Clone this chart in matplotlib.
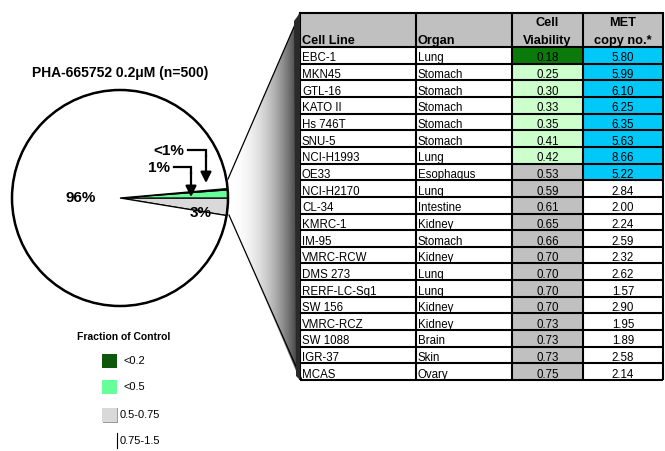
import matplotlib
matplotlib.use('Agg')
import matplotlib.pyplot as plt
from matplotlib.patches import Rectangle, Polygon, Circle
from matplotlib import font_manager
import numpy as np

# table data
cell_lines = ['EBC-1', 'MKN45', 'GTL-16', 'KATO II', 'Hs 746T', 'SNU-5', 'NCI-H1993',
              'OE33', 'NCI-H2170', 'CL-34', 'KMRC-1', 'IM-95', 'VMRC-RCW', 'DMS 273',
              'RERF-LC-Sq1', 'SW 156', 'VMRC-RCZ', 'SW 1088', 'IGR-37', 'MCAS']
organs = ['Lung', 'Stomach', 'Stomach', 'Stomach', 'Stomach', 'Stomach', 'Lung',
          'Esophagus', 'Lung', 'Intestine', 'Kidney', 'Stomach', 'Kidney', 'Lung',
          'Lung', 'Kidney', 'Kidney', 'Brain', 'Skin', 'Ovary']
viability = [0.18, 0.25, 0.30, 0.33, 0.35, 0.41, 0.42, 0.53, 0.59, 0.61, 0.65, 0.66,
             0.70, 0.70, 0.70, 0.70, 0.73, 0.73, 0.73, 0.75]
met_copy = [5.80, 5.99, 6.10, 6.25, 6.35, 5.63, 8.66, 5.22, 2.84, 2.00, 2.24, 2.59,
            2.32, 2.62, 1.57, 2.90, 1.95, 1.89, 2.58, 2.14]
n_total = 500

# pie: 0.5-0.75, <0.5, <0.2, rest
pie_labels = ['3%', '1%', '<1%', '96%']
legend_labels = ['<0.2', '<0.5', '0.5-0.75', '0.75-1.5']

DKGREEN = '#0b7a0b'
LEG_DK = '#0e580e'
PIE_DK = '#0a6e0a'
PIE_GREEN = '#66ff99'
PIE_GRAY = '#d9d9d9'
LTGREEN = '#ccffcc'
GRAY = '#c0c0c0'
BLUE = '#00c8f8'

W, H = 665, 451


def Y(y):
    """pixel row from top -> data y"""
    return H - y


names = {f.name for f in font_manager.fontManager.ttflist}
if 'Liberation Sans Narrow' in names:
    NARROW, NSIZE = 'Liberation Sans Narrow', 9.2
else:
    NARROW, NSIZE = 'Liberation Sans', 8.3
SANS = 'Liberation Sans'

fig = plt.figure(figsize=(W / 100, H / 100), dpi=100)
ax = fig.add_axes([0, 0, 1, 1])

# pie
v = np.array(viability)
counts = [int(((v >= 0.5) & (v <= 0.75)).sum()),
          int(((v >= 0.2) & (v < 0.5)).sum()),
          int((v < 0.2).sum())]
counts.append(n_total - sum(counts))
cx, cy, r = 120, 198, 108
ax.pie(counts, colors=[PIE_GRAY, PIE_GREEN, PIE_DK, 'white'],
       startangle=-360 * counts[0] / n_total, counterclock=True,
       center=(cx, Y(cy)), radius=r,
       wedgeprops=dict(edgecolor='black', linewidth=0.9))
ax.add_patch(Circle((cx, Y(cy)), r, fill=False, edgecolor='black', lw=1.8, zorder=3))

ax.text(cx, Y(73), 'PHA-665752 0.2\u03bcM (n=500)', ha='center', va='center',
        fontsize=10, fontweight='bold', family=SANS)
lab_pos = [(201, 213), (159, 168), (169, 151), (81, 198)]
for lab, (px, py) in zip(pie_labels, lab_pos):
    ax.text(px, Y(py), lab, ha='center', va='center', fontsize=11,
            fontweight='bold', family=SANS, zorder=5)

# callout arrows
for (x0, y0, x1, y2) in [(188, 150, 206, 183), (174, 167, 191, 197)]:
    ax.plot([x0, x1, x1], [Y(y0), Y(y0), Y(y0 + 6)], color='black', lw=1.6,
            solid_joinstyle='miter', zorder=5)
    ax.annotate('', xy=(x1, Y(y2)), xytext=(x1, Y(y0 + 5)),
                arrowprops=dict(arrowstyle='-|>', color='black', lw=1.6,
                                mutation_scale=16, shrinkA=0, shrinkB=0), zorder=5)

# funnel with gradient
tl, tr = 13, 380
funnel = Polygon([(228, Y(179)), (300, Y(tl)), (300, Y(tr)), (229, Y(215))],
                 closed=True, facecolor='none', edgecolor='none')
ax.add_patch(funnel)
gx = np.linspace(0, 1, 200)
grad = 1 - 0.8 * gx ** 2.2
im = ax.imshow(grad[np.newaxis, :], cmap='gray', vmin=0, vmax=1, aspect='auto',
               extent=(228, 300, Y(tr), Y(tl)), zorder=1)
im.set_clip_path(funnel)
ax.plot([228, 300], [Y(179), Y(tl)], color='black', lw=0.9, zorder=2)
ax.plot([229, 302], [Y(215), Y(tr)], color='black', lw=0.9, zorder=2)

# legend
ax.text(124, Y(337), 'Fraction of Control', ha='center', va='center',
        fontsize=7.5, fontweight='bold', family=SANS)
leg_colors = [LEG_DK, PIE_GREEN, PIE_GRAY, 'white']
leg_y = [354, 380, 408, 433]
for lab, col, ly in zip(legend_labels, leg_colors, leg_y):
    if col == 'white':
        ax.plot([117, 117], [Y(ly), Y(ly + 15)], color='black', lw=0.8)
        ax.text(120, Y(ly + 8), lab, ha='left', va='center', fontsize=8, family=SANS)
        continue
    if col == PIE_GRAY:
        ax.add_patch(Rectangle((103, Y(ly + 15)), 15, 15, facecolor='#9a9a9a',
                               edgecolor='none'))
        ax.add_patch(Rectangle((102, Y(ly + 14)), 15, 14, facecolor=col,
                               edgecolor='none'))
        ax.text(120, Y(ly + 7), lab, ha='left', va='center', fontsize=8, family=SANS)
    else:
        ax.add_patch(Rectangle((102, Y(ly + 14)), 15, 14, facecolor=col,
                               edgecolor='none'))
        ax.text(123, Y(ly + 7), lab, ha='left', va='center', fontsize=8, family=SANS)

# table
col_x = [300, 416, 512, 583, 663]
top, head_bot = 13, 47
row_h = (tr - head_bot) / len(cell_lines)
lw = 1.5

# header
ax.add_patch(Rectangle((col_x[0], Y(head_bot)), col_x[-1] - col_x[0], head_bot - top,
                       facecolor=GRAY, edgecolor='none'))
hfont = dict(fontsize=9.2, fontweight='bold', family=SANS)
ax.text(col_x[0] + 2, Y(head_bot - 3), 'Cell Line', ha='left', va='baseline', **hfont)
ax.text(col_x[1] + 2, Y(head_bot - 3), 'Organ', ha='left', va='baseline', **hfont)
for ci, (l1, l2) in zip([2, 3], [('Cell', 'Viability'), ('MET', 'copy no.*')]):
    xc = (col_x[ci] + col_x[ci + 1]) / 2
    ax.text(xc, Y(26), l1, ha='center', va='baseline', **hfont)
    ax.text(xc, Y(head_bot - 3), l2, ha='center', va='baseline', **hfont)

for i, (cl, org, via, met) in enumerate(zip(cell_lines, organs, viability, met_copy)):
    y0 = head_bot + i * row_h
    y1 = y0 + row_h
    if via < 0.2:
        vc = DKGREEN
    elif via < 0.5:
        vc = LTGREEN
    else:
        vc = GRAY
    mc = BLUE if met > 5 else 'white'
    ax.add_patch(Rectangle((col_x[2], Y(y1)), col_x[3] - col_x[2], row_h,
                           facecolor=vc, edgecolor='none'))
    ax.add_patch(Rectangle((col_x[3], Y(y1)), col_x[4] - col_x[3], row_h,
                           facecolor=mc, edgecolor='none'))
    tb = Y(y1 - 2.2)
    tf = dict(fontsize=NSIZE, family=[NARROW, SANS], va='baseline')
    ax.text(col_x[0] + 2, tb, cl, ha='left', **tf)
    ax.text(col_x[1] + 2, tb, org, ha='left', **tf)
    ax.text((col_x[2] + col_x[3]) / 2, tb, f'{via:.2f}', ha='center', **tf)
    ax.text((col_x[3] + col_x[4]) / 2, tb, f'{met:.2f}', ha='center', **tf)
    ax.plot([col_x[0], col_x[-1]], [Y(y1), Y(y1)], color='black', lw=lw,
            solid_capstyle='butt')

ax.plot([col_x[0], col_x[-1]], [Y(top), Y(top)], color='black', lw=lw)
ax.plot([col_x[0], col_x[-1]], [Y(head_bot), Y(head_bot)], color='black', lw=lw)
for x in col_x:
    ax.plot([x, x], [Y(top), Y(tr)], color='black', lw=lw, solid_capstyle='butt')
# dark left edge of table
ax.add_patch(Polygon([(294, Y(top + 8)), (300, Y(top)), (300, Y(tr)), (296, Y(tr - 4))],
                     closed=True, facecolor='#2a2a2a', edgecolor='none', zorder=2))

ax.set_xlim(0, W)
ax.set_ylim(0, H)
ax.set_aspect('auto')
ax.axis('off')
fig.savefig('out.png', dpi=100)
